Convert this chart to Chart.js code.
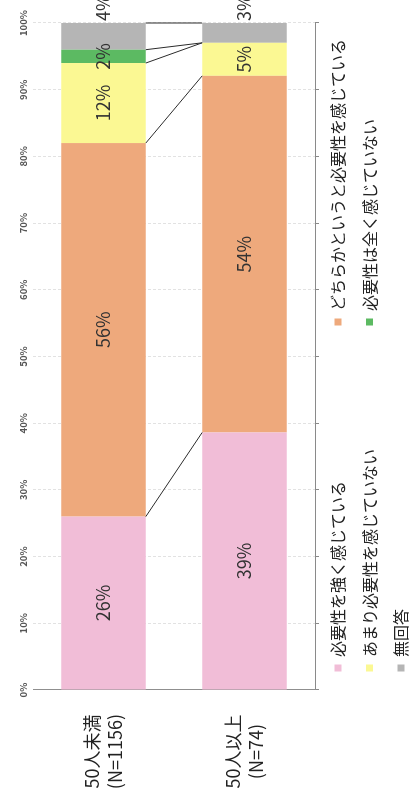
<!DOCTYPE html>
<html lang="ja">
<head>
<meta charset="utf-8">
<title>従業員規模別 必要性の認識</title>
<script src="https://cdn.jsdelivr.net/npm/chart.js@4/dist/chart.umd.min.js"></script>
<style>
  html, body { margin: 0; padding: 0; width: 411px; height: 808px; overflow: hidden; background: #fff; }
  /* the chart is laid out landscape and turned a quarter-turn counter-clockwise */
  #wrap {
    position: absolute; left: 0; top: 0;
    width: 808px; height: 411px;
    transform-origin: 0 0;
    transform: translate(0, 808px) rotate(-90deg);
  }
  #chart { display: block; width: 808px; height: 411px; }
</style>
</head>
<body>
<div id="wrap"><canvas id="chart" width="808" height="411"></canvas></div>
<script>
// ---- data ----
const categories = [['50人未満', '(N=1156)'], ['50人以上', '(N=74)']];
const seriesNames = [
  '必要性を強く感じている',
  'どちらかというと必要性を感じている',
  'あまり必要性を感じていない',
  '必要性は全く感じていない',
  '無回答'
];
const strongly = [26, 39];
const somewhat = [56, 54];
const notMuch = [12, 5];
const notAtAll = [2, 0];
const noAnswer = [4, 3];
const tickLabels = ['0%', '10%', '20%', '30%', '40%', '50%', '60%', '70%', '80%', '90%', '100%'];

const series = [strongly, somewhat, notMuch, notAtAll, noAnswer];
const colors = ['#f1bdd7', '#eea97c', '#fbf893', '#5cba62', '#b5b5b5'];

// 100% stacked: each bar is scaled by its own total
const totals = categories.map((_, i) => series.reduce((s, arr) => s + arr[i], 0));

const FONT = "'Noto Sans CJK JP', 'Noto Sans', sans-serif";
Chart.defaults.font.family = FONT;

// lines joining matching segment boundaries of neighbouring bars
const seriesLines = {
  id: 'seriesLines',
  afterDatasetsDraw(chart) {
    const ctx = chart.ctx;
    ctx.save();
    ctx.strokeStyle = '#2b2b2b';
    ctx.lineWidth = 1;
    chart.data.datasets.forEach((ds, d) => {
      const bars = chart.getDatasetMeta(d).data;
      for (let i = 0; i < bars.length - 1; i++) {
        const a = bars[i], b = bars[i + 1];
        ctx.beginPath();
        ctx.moveTo(a.x, a.y + a.height / 2);
        ctx.lineTo(b.x, b.y - b.height / 2);
        ctx.stroke();
      }
    });
    ctx.restore();
  }
};

// percentage labels on the segments; the last series sits just past the bar end
const valueLabels = {
  id: 'valueLabels',
  afterDatasetsDraw(chart) {
    const ctx = chart.ctx;
    const last = chart.data.datasets.length - 1;
    ctx.save();
    ctx.font = '18px ' + FONT;
    ctx.fillStyle = '#333';
    ctx.textBaseline = 'middle';
    chart.data.datasets.forEach((ds, d) => {
      chart.getDatasetMeta(d).data.forEach((el, i) => {
        const v = series[d][i];
        if (!v) return;
        const text = v + '%';
        if (d === last) {
          ctx.textAlign = 'left';
          ctx.fillText(text, el.x + 2, el.y);
        } else {
          ctx.textAlign = 'center';
          ctx.fillText(text, (el.x + el.base) / 2, el.y);
        }
      });
    });
    ctx.restore();
  }
};

// two-column legend under the plot
const gridLegend = {
  id: 'gridLegend',
  afterDraw(chart) {
    const ctx = chart.ctx;
    const { left, bottom } = chart.chartArea;
    ctx.save();
    ctx.font = '16px ' + FONT;
    ctx.textBaseline = 'middle';
    ctx.textAlign = 'left';
    chart.data.datasets.forEach((ds, k) => {
      const col = k % 2, row = Math.floor(k / 2);
      const bx = left + 22 + col * 346;
      const by = bottom + 23 + row * 31.5;
      ctx.fillStyle = ds.backgroundColor;
      ctx.fillRect(bx - 3.5, by - 3.5, 7, 7);
      ctx.fillStyle = '#222';
      ctx.fillText(ds.label, bx + 11, by);
    });
    ctx.restore();
  }
};

new Chart(document.getElementById('chart'), {
  type: 'bar',
  data: {
    labels: categories,
    datasets: series.map((arr, d) => ({
      label: seriesNames[d],
      data: arr.map((v, i) => v / totals[i] * 100),
      backgroundColor: colors[d],
      borderWidth: 0,
      barPercentage: 0.6,
      categoryPercentage: 1
    }))
  },
  options: {
    indexAxis: 'y',
    responsive: false,
    animation: false,
    events: [],
    layout: { padding: { top: 0, right: 23, bottom: 0, left: 0 } },
    plugins: {
      legend: { display: false },
      tooltip: { enabled: false }
    },
    scales: {
      x: {
        position: 'top',
        stacked: true,
        min: 0, max: 100,
        ticks: {
          stepSize: 10,
          maxRotation: 0,
          padding: 4,
          color: '#555',
          font: { size: 9.5, weight: 'bold' },
          callback: (v, i) => tickLabels[i]
        },
        grid: { color: '#e2e2e2', drawTicks: false },
        border: { display: false, dash: [3, 2] },
        afterFit: (s) => { s.height = 33; }
      },
      x2: {
        position: 'bottom',
        min: 0, max: 100,
        ticks: { display: false, stepSize: 10 },
        grid: { drawOnChartArea: false, drawTicks: true, tickLength: 4, color: '#8a8a8a' },
        border: { display: true, color: '#8a8a8a', width: 1 },
        afterFit: (s) => { s.height = 96; }
      },
      y: {
        stacked: true,
        ticks: {
          crossAlign: 'center',
          padding: 0,
          color: '#222',
          font: { size: 18, lineHeight: 1.3 }
        },
        grid: { display: false, drawTicks: true, tickLength: 24 },
        border: { display: true, color: '#8f8f8f', dash: [2, 1] },
        afterFit: (s) => { s.width = 118; }
      }
    }
  },
  plugins: [seriesLines, valueLabels, gridLegend]
});
</script>
</body>
</html>
